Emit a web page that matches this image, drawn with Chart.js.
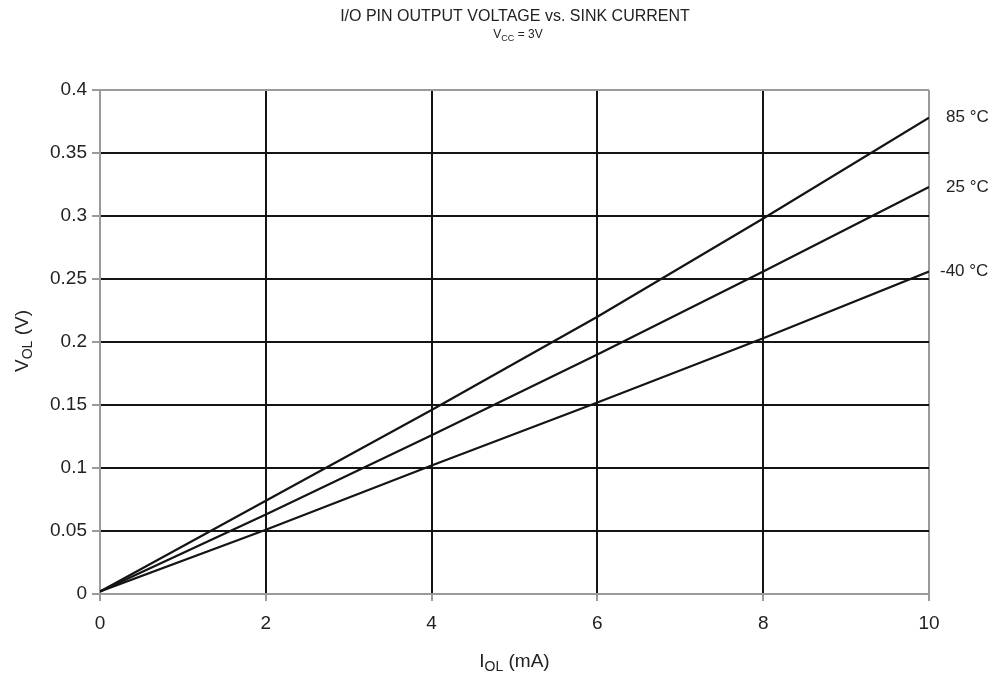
<!DOCTYPE html>
<html>
<head>
<meta charset="utf-8">
<script src="https://cdn.jsdelivr.net/npm/chart.js@4.4.1/dist/chart.umd.min.js"></script>
<style>
  html, body { margin: 0; padding: 0; background: #fff; }
  #wrap { width: 1001px; height: 673px; }
</style>
</head>
<body>
<div id="wrap"><canvas id="c" width="1001" height="673"></canvas></div>
<script>
// ---- data ----
const currents = [0, 2, 4, 6, 8, 10];               // I_OL (mA)
const v85 = [0.002, 0.074, 0.146, 0.220, 0.298, 0.378];
const v25 = [0.002, 0.063, 0.126, 0.190, 0.256, 0.323];
const vM40 = [0.002, 0.051, 0.102, 0.152, 0.203, 0.256];
const seriesLabels = ['85 °C', '25 °C', '-40 °C'];
const xTicks = [0, 2, 4, 6, 8, 10];
const yTicks = [0, 0.05, 0.1, 0.15, 0.2, 0.25, 0.3, 0.35, 0.4];

const FONT = '"Liberation Sans", Arial, sans-serif';
const GRID = '#141414';
const EDGE = '#9a9a9a';

function toPts(ys) { return currents.map((x, i) => ({ x, y: ys[i] })); }

// text with a subscript part, drawn left to right
function subText(ctx, parts, x, y, size, align) {
  const subSize = Math.round(size * 0.72);
  let w = 0;
  parts.forEach(p => {
    ctx.font = (p.sub ? subSize : size) + 'px ' + FONT;
    w += ctx.measureText(p.t).width;
  });
  let cx = align === 'center' ? x - w / 2 : x;
  ctx.textAlign = 'left';
  ctx.textBaseline = 'alphabetic';
  parts.forEach(p => {
    ctx.font = (p.sub ? subSize : size) + 'px ' + FONT;
    ctx.fillText(p.t, cx, p.sub ? y + size * 0.22 : y);
    cx += ctx.measureText(p.t).width;
  });
}

const textPlugin = {
  id: 'texts',
  afterDraw(chart) {
    const ctx = chart.ctx;
    const a = chart.chartArea;
    ctx.save();
    ctx.fillStyle = '#222';

    // titles
    ctx.font = '16px ' + FONT;
    ctx.textAlign = 'center';
    ctx.textBaseline = 'alphabetic';
    ctx.fillText('I/O PIN OUTPUT VOLTAGE vs. SINK CURRENT', 515, 21);
    subText(ctx, [{ t: 'V' }, { t: 'CC', sub: true }, { t: ' = 3V' }], 518, 38, 12, 'center');

    // x axis title
    subText(ctx, [{ t: 'I' }, { t: 'OL', sub: true }, { t: ' (mA)' }], (a.left + a.right) / 2, 667, 19, 'center');

    // y axis title (rotated)
    ctx.save();
    ctx.translate(28, 341);
    ctx.rotate(-Math.PI / 2);
    subText(ctx, [{ t: 'V' }, { t: 'OL', sub: true }, { t: ' (V)' }], 0, 0, 19, 'center');
    ctx.restore();

    // series labels at line ends
    ctx.font = '17px ' + FONT;
    ctx.textAlign = 'left';
    ctx.textBaseline = 'middle';
    chart.data.datasets.forEach((ds, i) => {
      const meta = chart.getDatasetMeta(i);
      const last = meta.data[meta.data.length - 1];
      const lbl = seriesLabels[i];
      const dx = lbl.startsWith('-') ? 11 : 17;
      ctx.fillText(lbl, a.right + dx, last.y);
    });
    ctx.restore();
  }
};

function lineDs(label, ys) {
  return {
    label,
    data: toPts(ys),
    borderColor: '#141414',
    borderWidth: 2.2,
    pointRadius: 0,
    tension: 0,
    fill: false,
  };
}

new Chart(document.getElementById('c'), {
  type: 'line',
  data: {
    datasets: [
      lineDs(seriesLabels[0], v85),
      lineDs(seriesLabels[1], v25),
      lineDs(seriesLabels[2], vM40),
    ],
  },
  options: {
    responsive: false,
    animation: false,
    layout: { padding: { top: 90, right: 72, left: 0, bottom: 0 } },
    plugins: {
      legend: { display: false },
      tooltip: { enabled: false },
      title: { display: false },
    },
    scales: {
      x: {
        type: 'linear',
        min: 0,
        max: 10,
        afterBuildTicks: s => { s.ticks = xTicks.map(v => ({ value: v })); },
        afterFit: s => { s.height = 79; },
        ticks: { color: '#222', font: { family: FONT, size: 19 }, padding: 11 },
        grid: {
          color: c => (c.tick && (c.tick.value === 0 || c.tick.value === 10)) ? EDGE : GRID,
          lineWidth: 2,
          tickLength: 7,
          tickColor: EDGE,
        },
        border: { color: EDGE, width: 2 },
      },
      y: {
        type: 'linear',
        min: 0,
        max: 0.4,
        afterBuildTicks: s => { s.ticks = yTicks.map(v => ({ value: v })); },
        afterFit: s => { s.width = 100; },
        ticks: { color: '#222', font: { family: FONT, size: 19 }, padding: 5, callback: v => String(+v.toFixed(2)) },
        grid: {
          color: c => (c.tick && (c.tick.value === 0 || Math.abs(c.tick.value - 0.4) < 1e-9)) ? EDGE : GRID,
          lineWidth: 2,
          tickLength: 8,
          tickColor: EDGE,
        },
        border: { color: EDGE, width: 2 },
      },
    },
  },
  plugins: [textPlugin],
});
</script>
</body>
</html>
